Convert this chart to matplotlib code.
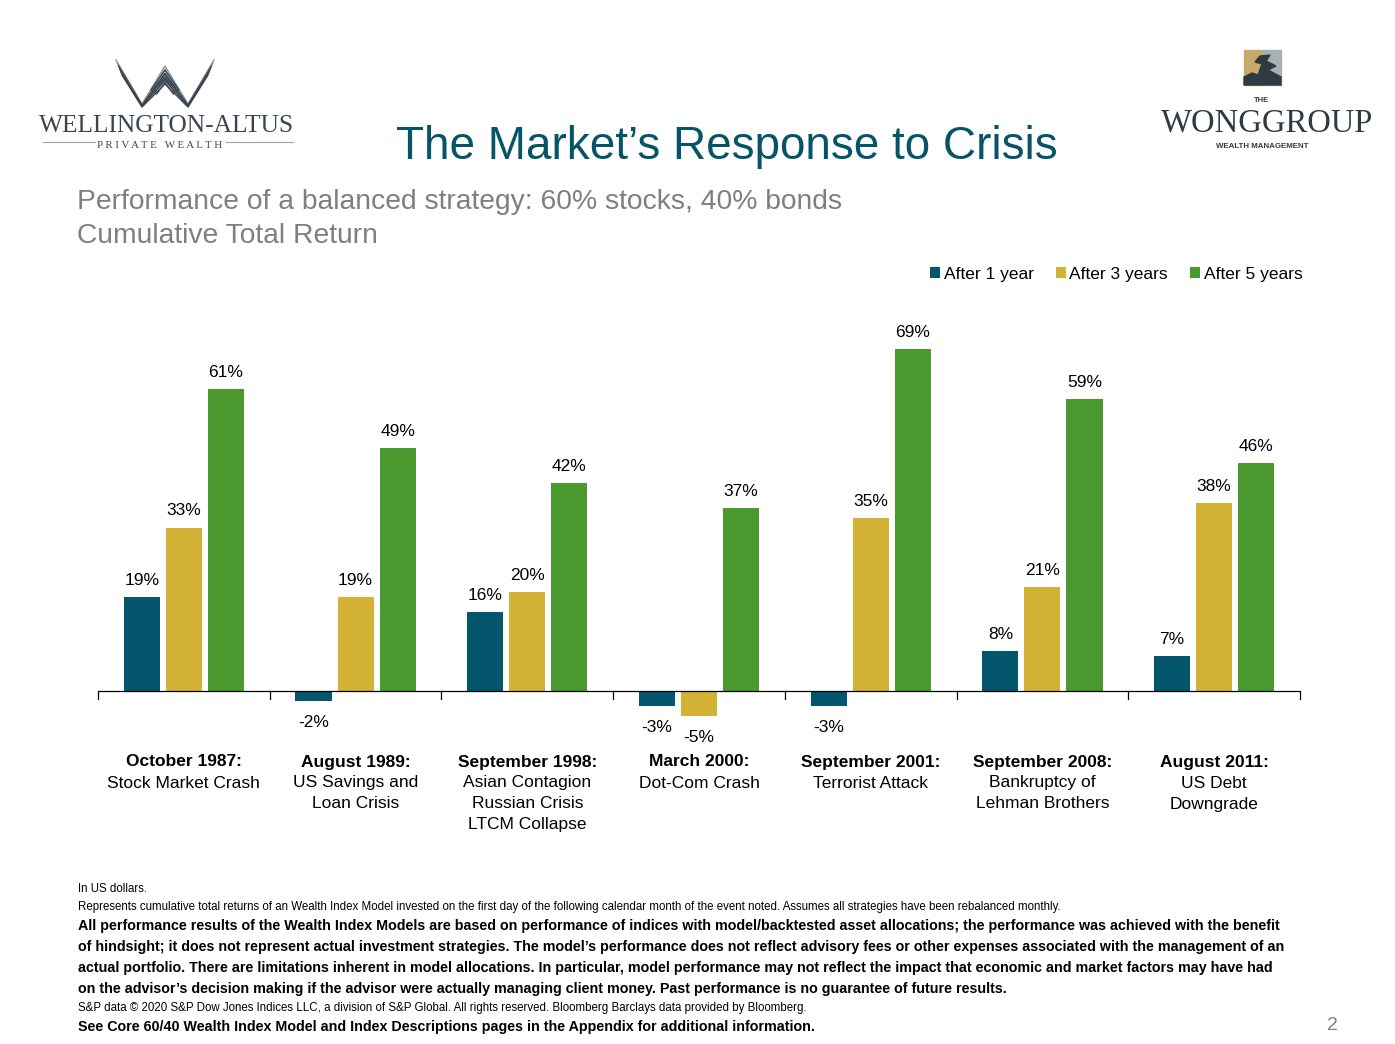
import numpy as np
import matplotlib
matplotlib.use("Agg")
import matplotlib.pyplot as plt
from matplotlib.patches import Rectangle, Polygon, Patch

# data
events = ["October 1987:", "August 1989:", "September 1998:", "March 2000:",
          "September 2001:", "September 2008:", "August 2011:"]
event_desc = [["Stock Market Crash"], ["US Savings and", "Loan Crisis"],
              ["Asian Contagion", "Russian Crisis", "LTCM Collapse"], ["Dot-Com Crash"],
              ["Terrorist Attack"], ["Bankruptcy of", "Lehman Brothers"], ["US Debt", "Downgrade"]]
after_1yr = [19, -2, 16, -3, -3, 8, 7]
after_3yr = [33, 19, 20, -5, 35, 21, 38]
after_5yr = [61, 49, 42, 37, 69, 59, 46]
series_names = ["After 1 year", "After 3 years", "After 5 years"]
colors = ["#03566B", "#D3B236", "#4A9A30"]

W, H = 1395, 1044
fig = plt.figure(figsize=(W / 100, H / 100), dpi=100)
fig.patch.set_facecolor("white")

SANS = ["Liberation Sans", "DejaVu Sans"]
SERIF = ["Liberation Serif", "DejaVu Serif"]


def fx(x):
    return x / W


def fy(y):
    return 1 - y / H


# axes placed in pixel terms
ymin, ymax = -8, 75
ppu = 4.95
ax_top = 691 - ymax * ppu
ax_bot = 691 - ymin * ppu
ax = fig.add_axes([fx(98), fy(ax_bot), fx(1300) - fx(98), (ax_bot - ax_top) / H])
ax.set_xlim(-0.5, 6.5)
ax.set_ylim(ymin, ymax)

x = np.arange(len(events))
bw = 0.21
off = 0.245
for k, vals in enumerate([after_1yr, after_3yr, after_5yr]):
    xs = x + (k - 1) * off
    ax.bar(xs, vals, width=bw, color=colors[k], zorder=2)
    for xi, v in zip(xs, vals):
        dy = 12 if v >= 0 else -15.5
        ax.annotate(f"{v}%", (xi, v), xytext=(0, dy), textcoords="offset points",
                    ha="center", va="center", fontsize=12.5, family=SANS)

ax.axhline(0, color="black", lw=0.9, zorder=3)
for s in ax.spines.values():
    s.set_visible(False)
ax.set_yticks([])
ax.set_xticks([])
# tick marks hanging under the baseline at group edges
for t in np.arange(-0.5, 7, 1):
    ax.plot([t, t], [0, -8 / ppu], color="black", lw=0.9, clip_on=False, zorder=3)

# category labels
for i in range(len(events)):
    ax.annotate(events[i], (i, H - 762), xycoords=("data", "figure pixels"),
                fontsize=12.5, fontweight="bold", family=SANS, ha="center", va="center",
                annotation_clip=False)
    for j, line in enumerate(event_desc[i]):
        ax.annotate(line, (i, H - 783 - 21 * j), xycoords=("data", "figure pixels"),
                    fontsize=12.5, family=SANS, ha="center", va="center",
                    annotation_clip=False)

# legend
handles = [Patch(facecolor=c) for c in colors]
fig.legend(handles, series_names, loc="center right", bbox_to_anchor=(fx(1318), fy(274)),
           ncol=3, frameon=False, prop={"family": SANS, "size": 12.5},
           handlelength=0.6, handleheight=0.6, handletextpad=0.2, columnspacing=1.25)

# title and subtitle
fig.text(fx(727), fy(147), "The Market\u2019s Response to Crisis", ha="center", va="center",
         fontsize=33, color="#065468", family=SANS)
fig.text(fx(77), fy(202), "Performance of a balanced strategy: 60% stocks, 40% bonds",
         ha="left", va="center", fontsize=20.3, color="#7F7F7F", family=SANS)
fig.text(fx(77), fy(236), "Cumulative Total Return", ha="left", va="center",
         fontsize=20.3, color="#7F7F7F", family=SANS)

# left logo (rough drawing)
la = fig.add_axes([0, 0, 1, 1], zorder=-1)
la.set_xlim(0, W)
la.set_ylim(H, 0)
la.axis("off")
logo_c = "#3A4550"
for k in range(6):
    d = k * 3.0
    la.plot([116 + d * 0.4, 142, 165, 188, 214 - d * 0.4],
            [60 + d, 104 + d * 0.2, 66 + d * 1.2, 104 + d * 0.2, 60 + d],
            color=logo_c if k > 1 else "#8A929A", lw=1.0)
for k in range(4):
    d = k * 3.2
    la.plot([151 + d * 0.6, 165, 179 - d * 0.6], [90 + d * 0.4, 70 + d * 1.3, 90 + d * 0.4],
            color=logo_c, lw=1.0)
fig.text(fx(167), fy(126), "WELLINGTON-ALTUS", ha="center", va="center", fontsize=18.3,
         color=logo_c, family=SERIF)
la.plot([43, 95], [142, 142], color="#9AA0A6", lw=0.8)
la.plot([226, 293], [142, 142], color="#9AA0A6", lw=0.8)
fig.text(fx(160), fy(146), "P R I V A T E   W E A L T H", ha="center", va="center",
         fontsize=7.8, color=logo_c, family=SERIF)

# right logo (rough drawing)
la.add_patch(Rectangle((1244, 50), 19, 35, color="#C8A96A"))
la.add_patch(Rectangle((1263, 50), 18, 35, color="#A9B0B2"))
la.add_patch(Polygon([[1244, 85], [1244, 77], [1252, 73], [1258, 75], [1262, 64],
                      [1255, 62], [1260, 56], [1270, 55], [1266, 61], [1276, 66],
                      [1268, 70], [1281, 77], [1281, 85]], closed=True, color="#2E3B40"))
fig.text(fx(1262), fy(101), "THE", ha="center", va="center", fontsize=5.5,
         fontweight="bold", color="#2E3B44", family=SANS)
fig.text(fx(1267), fy(123), "WONGGROUP", ha="center", va="center", fontsize=23.5,
         color="#2E3B44", family=SERIF)
fig.text(fx(1262), fy(146), "WEALTH MANAGEMENT", ha="center", va="center", fontsize=5.7,
         fontweight="bold", color="#2E3B44", family=SANS)

# footnotes
fig.text(fx(78), fy(889), "In US dollars.", fontsize=8.3, family=SANS, va="center")
fig.text(fx(78), fy(907), "Represents cumulative total returns of an Wealth Index Model invested on the first day "
         "of the following calendar month of the event noted. Assumes all strategies have been "
         "rebalanced monthly.", fontsize=8.3, family=SANS, va="center")
bold_lines = [
    "All performance results of the Wealth Index Models are based on performance of indices with "
    "model/backtested asset allocations; the performance was achieved with the benefit",
    "of hindsight; it does not represent actual investment strategies. The model\u2019s performance "
    "does not reflect advisory fees or other expenses associated with the management of an",
    "actual portfolio. There are limitations inherent in model allocations. In particular, model "
    "performance may not reflect the impact that economic and market factors may have had",
    "on the advisor\u2019s decision making if the advisor were actually managing client money. "
    "Past performance is no guarantee of future results.",
]
for j, line in enumerate(bold_lines):
    fig.text(fx(78), fy(926 + 21 * j), line, fontsize=10.3, fontweight="bold",
             family=SANS, va="center")
fig.text(fx(78), fy(1008), "S&P data \u00a9 2020 S&P Dow Jones Indices LLC, a division of S&P Global. "
         "All rights reserved. Bloomberg Barclays data provided by Bloomberg.",
         fontsize=8.3, family=SANS, va="center")
fig.text(fx(78), fy(1027), "See Core 60/40 Wealth Index Model and Index Descriptions pages in "
         "the Appendix for additional information.", fontsize=10.3, fontweight="bold",
         family=SANS, va="center")
fig.text(fx(1332), fy(1026), "2", fontsize=14, color="#7F7F7F", family=SANS,
         ha="center", va="center")

fig.savefig("out.png", dpi=100)
